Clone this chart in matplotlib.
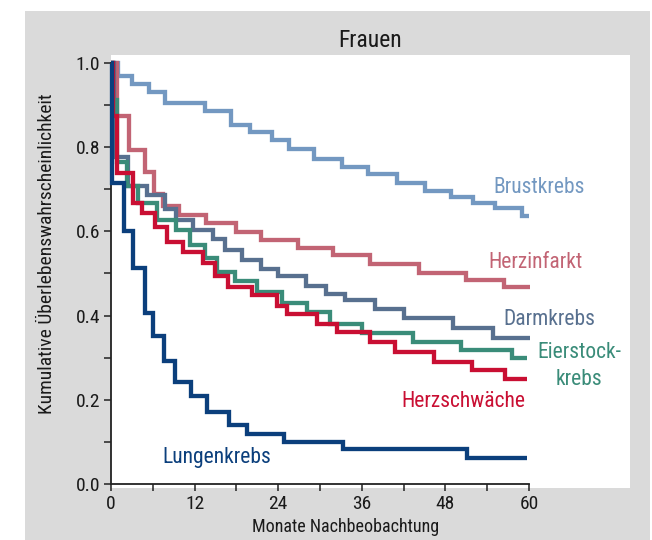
import matplotlib
matplotlib.use("Agg")
import matplotlib.pyplot as plt
from matplotlib.patches import Rectangle

plt.rcParams['font.family'] = ['Roboto Condensed', 'Archivo Narrow', 'PT Sans Narrow',
                               'Fira Sans Condensed', 'IBM Plex Sans Condensed',
                               'Liberation Sans Narrow', 'Roboto', 'DejaVu Sans']

# ---- data (months, cumulative survival) ----
brust_t = [0, 1.05, 3.0, 5.4, 7.75, 13.5, 17.2, 20.0, 23.1, 25.5, 29.2, 33.1, 36.9, 41.0, 45.1, 48.8, 52.0, 55.1, 59.0, 60.0]
brust_s = [1.0, 0.969, 0.950, 0.932, 0.905, 0.885, 0.853, 0.837, 0.816, 0.796, 0.773, 0.754, 0.736, 0.716, 0.696, 0.682, 0.667, 0.655, 0.637, 0.637]

herzinf_t = [0, 0.9, 2.6, 4.9, 6.2, 7.5, 9.7, 13.7, 18.0, 21.6, 26.8, 31.9, 37.2, 44.2, 50.9, 56.4, 60.2]
herzinf_s = [1.0, 0.873, 0.793, 0.741, 0.690, 0.661, 0.640, 0.620, 0.599, 0.580, 0.561, 0.543, 0.523, 0.502, 0.485, 0.469, 0.469]

darm_t = [0, 0.4, 2.5, 5.1, 7.75, 9.4, 11.8, 14.7, 16.4, 18.8, 21.6, 24.0, 28.0, 30.9, 33.6, 37.9, 42.0, 49.1, 54.9, 60.2]
darm_s = [1.0, 0.777, 0.708, 0.686, 0.653, 0.627, 0.603, 0.583, 0.556, 0.532, 0.510, 0.493, 0.470, 0.451, 0.436, 0.416, 0.394, 0.370, 0.347, 0.347]

eier_t = [0, 0.3, 0.8, 2.25, 3.9, 6.6, 9.4, 11.3, 13.5, 15.2, 17.8, 20.9, 24.5, 28.1, 31.4, 36.0, 43.4, 50.3, 57.6, 59.7]
eier_s = [1.0, 0.912, 0.766, 0.708, 0.667, 0.627, 0.603, 0.568, 0.536, 0.504, 0.481, 0.457, 0.429, 0.409, 0.379, 0.358, 0.338, 0.318, 0.299, 0.299]

herzschw_t = [0, 0.3, 0.9, 3.2, 4.4, 6.25, 8.0, 10.4, 13.25, 14.9, 16.75, 20.2, 23.8, 25.2, 29.6, 32.4, 37.2, 40.8, 46.3, 51.8, 56.55, 59.7]
herzschw_s = [1.0, 0.873, 0.738, 0.667, 0.643, 0.611, 0.576, 0.552, 0.524, 0.495, 0.469, 0.449, 0.423, 0.404, 0.381, 0.361, 0.338, 0.314, 0.290, 0.271, 0.249, 0.249]

lunge_t = [0, 0.15, 1.87, 3.2, 4.9, 6.0, 7.6, 9.25, 11.5, 13.85, 17.0, 19.5, 24.8, 33.3, 51.05, 59.7]
lunge_s = [1.0, 0.714, 0.601, 0.513, 0.406, 0.352, 0.292, 0.243, 0.209, 0.172, 0.140, 0.119, 0.099, 0.082, 0.061, 0.061]

x_ticks = [0, 12, 24, 36, 48, 60]
y_ticks = [0.0, 0.2, 0.4, 0.6, 0.8, 1.0]
y_ticklabels = ["0.0", "0.2", "0.4", "0.6", "0.8", "1.0"]

title = "Frauen"
xlabel = "Monate Nachbeobachtung"
ylabel = "Kumulative Überlebenswahrscheinlichkeit"

series = [
    ("Brustkrebs", brust_t, brust_s, "#7398c1"),
    ("Herzinfarkt", herzinf_t, herzinf_s, "#c26474"),
    ("Darmkrebs", darm_t, darm_s, "#58708f"),
    ("Eierstockkrebs", eier_t, eier_s, "#3a8c79"),
    ("Herzschwäche", herzschw_t, herzschw_s, "#c90f33"),
    ("Lungenkrebs", lunge_t, lunge_s, "#0b3f7c"),
]

fig = plt.figure(figsize=(6.52, 5.40), dpi=100)
fig.patch.set_facecolor("white")
fig.patches.append(Rectangle((25 / 652, 0), 625 / 652, 1 - 11 / 540,
                             transform=fig.transFigure, facecolor="#dadada",
                             edgecolor="none", zorder=-10))

ax = fig.add_axes([111 / 652, 52 / 540, 519 / 652, 433 / 540])
ax.set_zorder(5)
ax.set_facecolor("white")
ax.set_xlim(0, 74.5)
ax.set_ylim(-0.0095, 1.019)

for name, t, s, c in series:
    ax.step(t, s, where="post", color=c, lw=3.1, solid_joinstyle="miter",
            solid_capstyle="butt", clip_on=False, zorder=3)

# spines
for side in ("top", "right"):
    ax.spines[side].set_visible(False)
ax.spines["left"].set_bounds(0, 1.0)
ax.spines["bottom"].set_position(("data", 0))
ax.spines["bottom"].set_bounds(0, 60)
for side in ("left", "bottom"):
    ax.spines[side].set_color("#222222")
    ax.spines[side].set_linewidth(1.3)

ax.set_xticks(x_ticks)
ax.set_xticks([6, 18, 30, 42, 54], minor=True)
ax.set_yticks(y_ticks)
ax.set_yticklabels(y_ticklabels)
ax.set_yticks([0.1, 0.3, 0.5, 0.7, 0.9], minor=True)
ax.tick_params(which="both", direction="out", length=5, width=1.1, color="#222222")
ax.tick_params(axis="both", which="major", labelsize=14, labelcolor="#1a1a1a", pad=3)

ax.set_title(title, fontsize=17, color="#1a1a1a", pad=6)
ax.set_xlabel(xlabel, fontsize=13, color="#1a1a1a")
ax.xaxis.set_label_coords((346 - 111) / 519, (488 - 518) / 433)
ax.set_ylabel(ylabel, fontsize=14, color="#1a1a1a")
ax.yaxis.set_label_coords((56 - 111) / 519, (488 - 254) / 433)

# series labels
fs = 15.5
ax.text(61.4, 0.691, "Brustkrebs", color="#7398c1", fontsize=fs, ha="center", va="baseline")
ax.text(61.0, 0.512, "Herzinfarkt", color="#c26474", fontsize=fs, ha="center", va="baseline")
ax.text(62.9, 0.378, "Darmkrebs", color="#58708f", fontsize=fs, ha="center", va="baseline")
ax.text(67.2, 0.299, "Eierstock-", color="#3a8c79", fontsize=fs, ha="center", va="baseline")
ax.text(67.2, 0.235, "krebs", color="#3a8c79", fontsize=fs, ha="center", va="baseline")
ax.text(50.6, 0.184, "Herzschwäche", color="#c90f33", fontsize=fs, ha="center", va="baseline")
ax.text(15.2, 0.049, "Lungenkrebs", color="#0b3f7c", fontsize=fs, ha="center", va="baseline")

fig.savefig("out.png", dpi=100, facecolor=fig.get_facecolor())
